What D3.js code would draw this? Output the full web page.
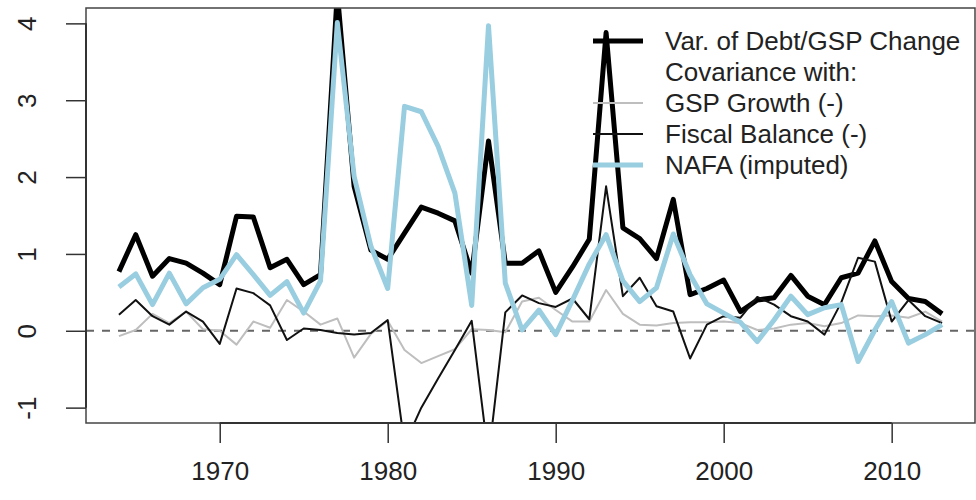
<!DOCTYPE html>
<html>
<head>
<meta charset="utf-8">
<script src="https://cdn.jsdelivr.net/npm/d3@7"></script>
<style>
  body { margin: 0; background: #fff; }
  svg { font-family: 'Liberation Sans', Arial, sans-serif; }
</style>
</head>
<body>
<div id="chart"></div>
<script>
const years = d3.range(1964, 2014)

// Var. of Debt/GSP Change
const varDebt = [0.77, 1.25, 0.71, 0.94, 0.88, 0.75, 0.60, 1.49, 1.48, 0.82,
  0.93, 0.60, 0.73, 4.40, 1.88, 1.05, 0.93, 1.27, 1.61, 1.53,
  1.43, 0.75, 2.47, 0.88, 0.88, 1.04, 0.50, 0.83, 1.19, 3.88,
  1.34, 1.20, 0.94, 1.71, 0.47, 0.55, 0.66, 0.25, 0.40, 0.43,
  0.72, 0.45, 0.34, 0.69, 0.75, 1.17, 0.64, 0.42, 0.38, 0.22]

// covariance with GSP growth (-)
const gspGrowth = [-0.07, 0.01, 0.22, 0.10, 0.25, 0.02, 0.00, -0.18, 0.12, 0.04,
  0.40, 0.25, 0.08, 0.16, -0.35, -0.04, 0.13, -0.25, -0.42, -0.33,
  -0.24, 0.02, 0.01, -0.02, 0.38, 0.43, 0.27, 0.12, 0.12, 0.53,
  0.22, 0.08, 0.07, 0.10, 0.11, 0.11, 0.12, 0.10, 0.01, 0.03,
  0.08, 0.10, 0.06, 0.10, 0.20, 0.19, 0.20, 0.17, 0.25, 0.12]

// covariance with fiscal balance (-)
const fiscalBal = [0.21, 0.40, 0.19, 0.08, 0.25, 0.12, -0.17, 0.55, 0.49, 0.33,
  -0.12, 0.03, 0.01, -0.03, -0.05, -0.03, 0.14, -1.48, -1.00, -0.62,
  -0.25, 0.13, -1.65, 0.24, 0.46, 0.36, 0.31, 0.42, 0.15, 1.88,
  0.45, 0.69, 0.32, 0.25, -0.36, 0.08, 0.19, 0.17, 0.44, 0.34,
  0.19, 0.12, -0.05, 0.37, 0.95, 0.90, 0.12, 0.40, 0.19, 0.10]

// NAFA (imputed)
const nafa = [0.57, 0.74, 0.34, 0.75, 0.35, 0.56, 0.67, 0.99, 0.73, 0.46,
  0.64, 0.23, 0.65, 4.01, 2.01, 1.10, 0.55, 2.92, 2.85, 2.40,
  1.79, 0.33, 3.97, 0.62, 0.01, 0.27, -0.05, 0.40, 0.87, 1.25,
  0.65, 0.38, 0.56, 1.26, 0.73, 0.35, 0.23, 0.11, -0.14, 0.14,
  0.45, 0.21, 0.30, 0.34, -0.40, 0.01, 0.38, -0.16, -0.05, 0.08]

const xTicks = [1970, 1980, 1990, 2000, 2010]
const yTicks = [-1, 0, 1, 2, 3, 4]

const series = [
  { label: 'Var. of Debt/GSP Change', values: varDebt, color: '#000', width: 5 },
  { label: 'GSP Growth (-)', values: gspGrowth, color: '#bebebe', width: 2 },
  { label: 'Fiscal Balance (-)', values: fiscalBal, color: '#111', width: 2 },
  { label: 'NAFA (imputed)', values: nafa, color: '#99cde0', width: 5 },
]

const W = 976, H = 500
const margin = { left: 86, right: 975, top: 8, bottom: 423 }
const fontSize = '26px'

const svg = d3.select('#chart').append('svg')
  .attr('width', W)
  .attr('height', H)

// R style 4% padding around the data range
const x = d3.scaleLinear()
  .domain([1964 - 1.96, 2013 + 1.96])
  .range([margin.left, margin.right])

const y = d3.scaleLinear()
  .domain([-1.2, 4.2])
  .range([margin.bottom, margin.top])

svg.append('clipPath').attr('id', 'plotclip')
  .append('rect')
  .attr('x', margin.left).attr('y', margin.top)
  .attr('width', margin.right - margin.left).attr('height', margin.bottom - margin.top)

const plot = svg.append('g').attr('clip-path', 'url(#plotclip)')

// zero line
plot.append('line')
  .attr('x1', margin.left).attr('x2', margin.right)
  .attr('y1', y(0)).attr('y2', y(0))
  .attr('stroke', '#666')
  .attr('stroke-width', 2)
  .attr('stroke-dasharray', '8,8')

const line = d3.line()
  .x((d, i) => x(years[i]))
  .y(d => y(d))

series.forEach(s => {
  plot.append('path')
    .datum(s.values)
    .attr('d', line)
    .attr('fill', 'none')
    .attr('stroke', s.color)
    .attr('stroke-width', s.width)
    .attr('stroke-linejoin', 'round')
})

// box
svg.append('rect')
  .attr('x', margin.left).attr('y', margin.top)
  .attr('width', margin.right - margin.left).attr('height', margin.bottom - margin.top)
  .attr('fill', 'none')
  .attr('stroke', '#444')
  .attr('stroke-width', 1.5)

// x axis
const xAxis = d3.axisBottom(x)
  .tickValues(xTicks)
  .tickFormat(d => String(d))
  .tickSize(20)
  .tickPadding(19)
const gx = svg.append('g')
  .attr('transform', `translate(0, ${margin.bottom})`)
  .call(xAxis)
gx.select('.domain').remove()
gx.append('line')
  .attr('x1', x(xTicks[0])).attr('x2', x(xTicks[xTicks.length - 1]))
  .attr('stroke', '#333').attr('stroke-width', 2)
gx.selectAll('.tick line').attr('stroke', '#333').attr('stroke-width', 1.5)
gx.selectAll('.tick text')
  .attr('font-size', fontSize)
  .attr('fill', '#222')
  .attr('font-family', "'Liberation Sans', Arial, sans-serif")

// y axis, labels parallel to the axis (plain hyphen for negatives, like R)
const yAxis = d3.axisLeft(y)
  .tickValues(yTicks)
  .tickFormat(d => String(d))
  .tickSize(20)
const gy = svg.append('g')
  .attr('transform', `translate(${margin.left}, 0)`)
  .call(yAxis)
gy.select('.domain').remove()
gy.append('line')
  .attr('y1', y(yTicks[0])).attr('y2', y(yTicks[yTicks.length - 1]))
  .attr('stroke', '#333').attr('stroke-width', 2)
gy.selectAll('.tick line').attr('stroke', '#333').attr('stroke-width', 1.5)
gy.selectAll('.tick text')
  .attr('x', null)
  .attr('font-size', fontSize)
  .attr('fill', '#222')
  .attr('font-family', "'Liberation Sans', Arial, sans-serif")
  .attr('text-anchor', 'middle')
  .attr('transform', 'translate(-59, 0) rotate(-90)')
  .attr('dy', '0.36em')

// legend
const legendRows = [
  { text: series[0].label, s: series[0] },
  { text: 'Covariance with:', s: null },
  { text: series[1].label, s: series[1] },
  { text: series[2].label, s: series[2] },
  { text: series[3].label, s: series[3] },
]
const legend = svg.append('g').attr('transform', 'translate(593, 41)')
legendRows.forEach((r, i) => {
  const row = legend.append('g').attr('transform', `translate(0, ${i * 31})`)
  if (r.s) {
    row.append('line')
      .attr('x1', 0).attr('x2', 50)
      .attr('stroke', r.s.color)
      .attr('stroke-width', r.s.width)
  }
  row.append('text')
    .attr('x', 72)
    .attr('dy', '0.36em')
    .attr('font-size', fontSize)
    .attr('fill', '#222')
    .text(r.text)
})
</script>
</body>
</html>
